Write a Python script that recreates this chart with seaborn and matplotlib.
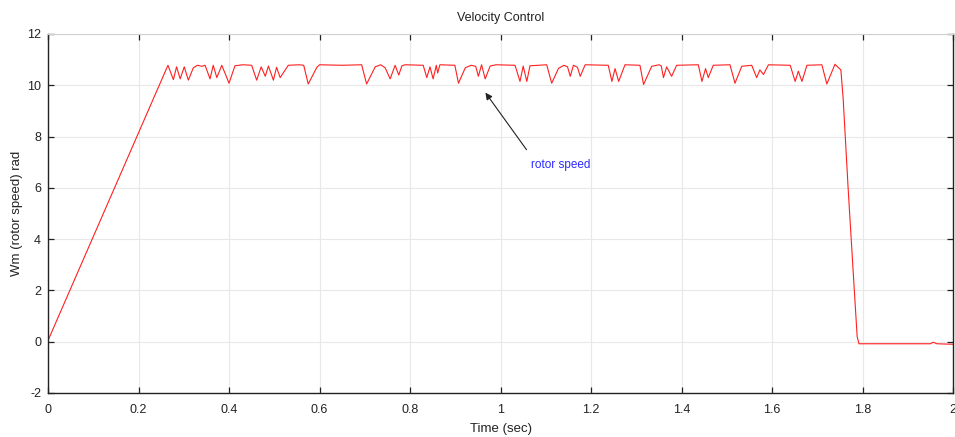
import numpy as np
import pandas as pd
import matplotlib
matplotlib.use("Agg")
import matplotlib.pyplot as plt
import seaborn as sns

# Simulated rotor speed of the velocity-controlled motor (rad/s vs. time)
time_s = [
    0.000, 0.265, 0.277, 0.284, 0.292, 0.301, 0.310, 0.321, 0.330, 0.340,
    0.347, 0.358, 0.365, 0.373, 0.384, 0.400, 0.413, 0.430, 0.450, 0.461,
    0.471, 0.480, 0.487, 0.498, 0.505, 0.513, 0.531, 0.555, 0.565, 0.575,
    0.594, 0.600, 0.650, 0.693, 0.704, 0.723, 0.735, 0.745, 0.756, 0.767,
    0.775, 0.782, 0.789, 0.829, 0.837, 0.844, 0.851, 0.858, 0.861, 0.866,
    0.899, 0.907, 0.922, 0.935, 0.945, 0.951, 0.958, 0.966, 0.977, 0.990,
    1.032, 1.043, 1.050, 1.058, 1.065, 1.102, 1.113, 1.128, 1.140, 1.148,
    1.154, 1.161, 1.170, 1.176, 1.187, 1.238, 1.246, 1.253, 1.261, 1.275,
    1.308, 1.316, 1.334, 1.350, 1.355, 1.360, 1.367, 1.378, 1.389, 1.437,
    1.445, 1.453, 1.459, 1.470, 1.507, 1.518, 1.533, 1.555, 1.566, 1.573,
    1.581, 1.592, 1.640, 1.651, 1.658, 1.666, 1.677, 1.710, 1.721, 1.739,
    1.747, 1.752, 1.757, 1.768, 1.780, 1.788, 1.792, 1.950, 1.956, 1.964,
    2.000,
]
rotor_speed = [
    0.05, 10.78, 10.22, 10.72, 10.25, 10.72, 10.20, 10.68, 10.78, 10.74,
    10.78, 10.25, 10.78, 10.30, 10.78, 10.08, 10.76, 10.80, 10.78, 10.20,
    10.72, 10.35, 10.75, 10.20, 10.70, 10.30, 10.78, 10.80, 10.78, 10.05,
    10.70, 10.80, 10.78, 10.80, 10.05, 10.72, 10.80, 10.68, 10.25, 10.78,
    10.40, 10.76, 10.80, 10.78, 10.30, 10.72, 10.25, 10.78, 10.48, 10.80,
    10.78, 10.08, 10.68, 10.78, 10.74, 10.35, 10.80, 10.25, 10.75, 10.80,
    10.78, 10.15, 10.75, 10.15, 10.76, 10.80, 10.08, 10.66, 10.78, 10.72,
    10.35, 10.78, 10.70, 10.35, 10.80, 10.78, 10.15, 10.65, 10.15, 10.80,
    10.78, 10.03, 10.74, 10.80, 10.76, 10.30, 10.72, 10.35, 10.78, 10.80,
    10.15, 10.65, 10.30, 10.78, 10.80, 10.08, 10.74, 10.78, 10.30, 10.60,
    10.42, 10.80, 10.78, 10.15, 10.55, 10.15, 10.78, 10.80, 10.05, 10.82,
    10.68, 10.60, 9.50, 6.00, 2.50, 0.20, -0.08, -0.08, -0.02, -0.08,
    -0.10,
]

x_ticks = [0, 0.2, 0.4, 0.6, 0.8, 1.0, 1.2, 1.4, 1.6, 1.8, 2.0]
x_tick_labels = ["0", "0.2", "0.4", "0.6", "0.8", "1", "1.2", "1.4", "1.6", "1.8", "2"]
y_ticks = [-2, 0, 2, 4, 6, 8, 10, 12]
y_tick_labels = ["-2", "0", "2", "4", "6", "8", "10", "12"]

df = pd.DataFrame({"Time (sec)": time_s, "Wm": rotor_speed})

sns.set_theme(style="whitegrid")
plt.rcParams["font.family"] = ["Liberation Sans", "DejaVu Sans"]

fig = plt.figure(figsize=(9.55, 4.37), dpi=100)
ax = fig.add_axes([0.0503, 0.1007, 0.9477, 0.8215])

sns.lineplot(data=df, x="Time (sec)", y="Wm", ax=ax, color="#ff2020",
             linewidth=0.8, estimator=None, sort=False)

ax.set_xlim(0, 2)
ax.set_ylim(-2, 12)
ax.set_xticks(x_ticks)
ax.set_xticklabels(x_tick_labels)
ax.set_yticks(y_ticks)
ax.set_yticklabels(y_tick_labels)

ax.grid(True, color="#e8e8e8", linewidth=0.8)
ax.set_facecolor("white")
for side in ["left", "bottom", "right"]:
    ax.spines[side].set_color("#222222")
    ax.spines[side].set_linewidth(1.0)
ax.spines["top"].set_color("#d0d0d0")
ax.spines["top"].set_linewidth(0.8)

ax.tick_params(axis="both", which="major", direction="in", length=4,
               width=0.9, color="#222222", labelsize=9, labelcolor="#222222",
               top=True, right=True, bottom=True, left=True)
ax.tick_params(axis="x", pad=8)
ax.tick_params(axis="y", pad=5)

ax.set_title("Velocity Control", fontsize=9, color="#222222", pad=9)
ax.set_xlabel("Time (sec)", fontsize=9.5, color="#222222", labelpad=5)
ax.set_ylabel("Wm (rotor speed) rad", fontsize=9.5, color="#222222", labelpad=3)

ax.annotate("", xy=(0.963, 9.80), xytext=(1.061, 7.40),
            arrowprops=dict(arrowstyle="-|>", color="#222222", lw=0.8,
                            mutation_scale=10))
ax.text(1.068, 6.88, "rotor speed", color="#2b2bff", fontsize=8.5,
        ha="left", va="center")

fig.savefig("out.png", dpi=100, facecolor="white")
